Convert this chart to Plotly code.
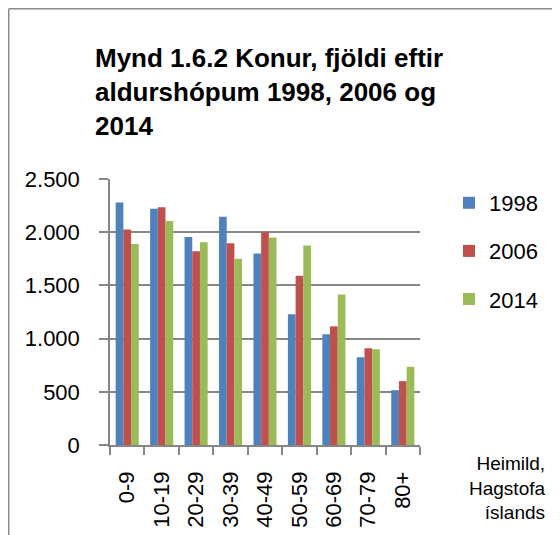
import plotly.graph_objects as go

categories = ["0-9", "10-19", "20-29", "30-39", "40-49", "50-59", "60-69", "70-79", "80+"]
v1998 = [2280, 2220, 1955, 2145, 1800, 1230, 1040, 825, 515]
v2006 = [2025, 2235, 1820, 1895, 2000, 1590, 1115, 910, 600]
v2014 = [1890, 2105, 1905, 1750, 1950, 1875, 1415, 900, 735]
series_names = ["1998", "2006", "2014"]
colors = ["#4F81BD", "#C0504D", "#9BBB59"]

OFF = 8  # page body margin
W, H = 560 - OFF, 535 - OFF
PL, PR, PT, PB = 110, 420, 179, 445  # plot area in screen pixels
L, T = PL - OFF, PT - OFF
R, B = W - (PR - OFF), H - (PB - OFF)
pw, ph = W - L - R, H - T - B

def px(x):
    return (x - OFF - L) / pw

def py(y):
    return (H - B - (y - OFF)) / ph

FONT = "Liberation Sans, Arial, sans-serif"
GRAY = "#868686"

fig = go.Figure()
for name, vals, col in zip(series_names, [v1998, v2006, v2014], colors):
    fig.add_trace(go.Bar(
        x=categories, y=vals, name=name, legendgroup=name,
        marker=dict(color=col, line=dict(width=0)),
    ))

fig.update_layout(
    width=W, height=H,
    margin=dict(l=L, r=R, t=T, b=B, autoexpand=False),
    paper_bgcolor="white", plot_bgcolor="white",
    separators=",.",
    barmode="group", bargap=0.33, bargroupgap=0,
    font=dict(family=FONT, color="black", size=22),
    title=dict(
        text="<b>Mynd 1.6.2 Konur, fjöldi eftir<br>aldurshópum 1998, 2006 og<br>2014</b>",
        x=(95 - OFF) / W, xanchor="left", xref="container",
        y=1 - (67 - OFF) / H, yanchor="top", yref="container",
        font=dict(family=FONT, size=26, color="black"),
    ),
    showlegend=True,
    legend=dict(
        x=px(449), xanchor="left", y=py(182), yanchor="top",
        traceorder="grouped", tracegroupgap=16.5,
        font=dict(family=FONT, size=22, color="black"),
        bgcolor="rgba(0,0,0,0)",
    ),
    xaxis=dict(
        type="category", tickangle=-90, tickson="boundaries",
        ticks="outside", ticklen=8, tickcolor=GRAY, tickwidth=1.5,
        showline=True, linecolor=GRAY, linewidth=1.5,
        showgrid=False, ticklabelstandoff=16, automargin=False,
        tickfont=dict(family=FONT, size=22, color="black"),
    ),
    yaxis=dict(
        range=[0, 2500], dtick=500, tickformat=",d",
        ticks="outside", ticklen=9, tickcolor=GRAY, tickwidth=1.5,
        showline=True, linecolor=GRAY, linewidth=1.5,
        showgrid=True, gridcolor=GRAY, gridwidth=1.5,
        zeroline=False, ticklabelstandoff=15, automargin=False,
        tickfont=dict(family=FONT, size=22, color="black"),
    ),
    shapes=[
        dict(type="line", xref="paper", yref="paper",
             x0=px(OFF + 0.75), x1=px(OFF + 0.75), y0=py(OFF + 0.75), y1=py(540),
             line=dict(color="#8C8C8C", width=1.5)),
        dict(type="line", xref="paper", yref="paper",
             x0=px(OFF + 0.75), x1=px(565), y0=py(OFF + 0.75), y1=py(OFF + 0.75),
             line=dict(color="#8C8C8C", width=1.5)),
    ],
    annotations=[
        dict(text="Heimild,<br>Hagstofa<br>íslands", xref="paper", yref="paper",
             x=px(547), y=py(451), xanchor="right", yanchor="top", align="right",
             showarrow=False, font=dict(family=FONT, size=19, color="black")),
    ],
)

fig.write_html("out.html")
